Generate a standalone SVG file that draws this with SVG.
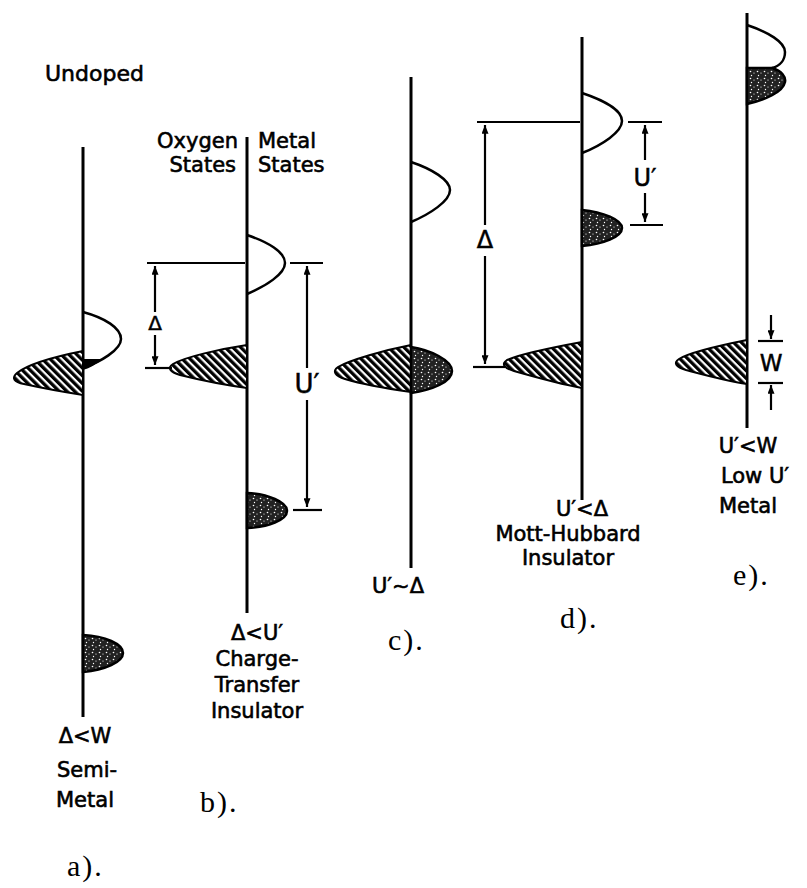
<svg xmlns="http://www.w3.org/2000/svg" width="807" height="888" viewBox="0 0 807 888">
<style>
.axis{stroke:#000;stroke-width:3;fill:none}
.ln{stroke:#000;stroke-width:2.2;fill:none}
.arr{stroke:#000;stroke-width:2.2;fill:none;marker-end:url(#ah)}
.open{stroke:#000;stroke-width:2.5;fill:none}
.hat{fill:url(#hatch);stroke:#000;stroke-width:2}
.dot{fill:url(#dots);stroke:#000;stroke-width:2.5}
.lab{font-family:"DejaVu Sans","Liberation Sans",sans-serif;font-size:21px;fill:#000;stroke:#000;stroke-width:0.6}
.sym{font-family:"DejaVu Sans","Liberation Sans",sans-serif;fill:#000;stroke:#000;stroke-width:0.5;text-anchor:middle}
.pl{font-family:"Liberation Serif",serif;font-size:30px;fill:#000;letter-spacing:2px}
.mid{text-anchor:middle}
.end{text-anchor:end}
</style>
<defs>
<pattern id="hatch" patternUnits="userSpaceOnUse" width="5.5" height="5.5" patternTransform="rotate(45)">
<rect width="5.5" height="5.5" fill="#000"/>
<rect y="0" width="5.5" height="2.2" fill="#fff"/>
</pattern>
<pattern id="dots" patternUnits="userSpaceOnUse" width="7" height="7">
<rect width="7" height="7" fill="#222"/>
<circle cx="1.5" cy="1.5" r="0.8" fill="#fff"/>
<circle cx="5" cy="3" r="0.6" fill="#fff"/>
<circle cx="2.5" cy="5.5" r="0.7" fill="#fff"/>
</pattern>
<marker id="ah" viewBox="0 0 10 8" refX="10" refY="4" markerWidth="10" markerHeight="7" markerUnits="userSpaceOnUse" orient="auto">
<path d="M0,0 L10,4 L0,8 Z" fill="#000"/>
</marker>
</defs>
<rect width="807" height="888" fill="#fff"/>

<text class="lab" x="45" y="81" style="font-size:22px">Undoped</text>

<g id="panel-a">
<line class="axis" x1="83" y1="147" x2="83" y2="717"/>
<path class="hat" d="M83,351 C58,356 28,364 17,373 C11,378 14,382 24,384 C42,388 64,392 83,395 Z"/>
<path class="open" d="M83,312 C105,318 121,328 121,339 C121,350 100,362 83,368"/>
<path d="M83,359 L103,359 C96,364 90,368 83,370 Z" fill="#000"/>
<path class="dot" d="M83,635 C105,636 123,644 123,653 C123,662 105,670 83,672 Z"/>
<text class="lab mid" x="85" y="743">Δ&lt;W</text>
<text class="lab mid" x="87" y="777">Semi-</text>
<text class="lab mid" x="85" y="807">Metal</text>
<text class="pl" x="67" y="876">a).</text>
</g>

<g id="panel-b">
<line class="axis" x1="247" y1="137" x2="247" y2="613"/>
<text class="lab end" x="238" y="148">Oxygen</text>
<text class="lab end" x="236" y="172">States</text>
<text class="lab" x="258" y="148">Metal</text>
<text class="lab" x="258" y="172">States</text>
<path class="open" d="M247,235 C268,242 285,252 285,263 C285,274 266,286 247,294"/>
<path class="hat" d="M247,345 C220,349 185,357 173,364 C167,368 170,372 180,375 C200,380 225,385 247,388 Z"/>
<path class="dot" d="M247,493 C268,494 287,502 287,511 C287,520 268,527 247,528 Z"/>
<text class="sym" x="155" y="330" style="font-size:20px">Δ</text>
<text class="sym" x="307" y="393" style="font-size:26px">U′</text>
<text class="lab mid" x="257" y="640">Δ&lt;U′</text>
<text class="lab mid" x="257" y="666">Charge-</text>
<text class="lab mid" x="257" y="692">Transfer</text>
<text class="lab mid" x="257" y="718">Insulator</text>
<text class="pl" x="200" y="812">b).</text>
</g>

<g id="panel-c">
<line class="axis" x1="411" y1="77" x2="411" y2="568"/>
<path class="open" d="M411,162 C432,169 450,180 450,190 C450,201 430,214 411,222"/>
<path class="hat" d="M411,345 C385,350 350,360 338,367 C332,371 335,376 345,379 C365,385 390,389 411,392 Z"/>
<path class="dot" d="M411,347 C430,350 452,360 452,371 C452,382 432,390 411,393 Z"/>
<text class="lab mid" x="398" y="593">U′~Δ</text>
<text class="pl" x="388" y="650">c).</text>
</g>

<g id="panel-d">
<line class="axis" x1="582" y1="37" x2="582" y2="500"/>
<path class="open" d="M582,93 C603,100 622,110 622,121 C622,132 602,145 582,153"/>
<path class="dot" d="M582,210 C603,212 622,220 622,228 C622,237 603,244 582,246 Z"/>
<path class="hat" d="M582,342 C555,347 520,354 507,360 C501,364 504,368 514,371 C535,377 560,384 582,388 Z"/>
<text class="sym" x="485" y="248" style="font-size:24px">Δ</text>
<text class="sym" x="645" y="186" style="font-size:24px">U′</text>
<text class="lab mid" x="582" y="516">U′&lt;Δ</text>
<text class="lab mid" x="568" y="541">Mott-Hubbard</text>
<text class="lab mid" x="568" y="565">Insulator</text>
<text class="pl" x="560" y="628">d).</text>
</g>

<g id="panel-e">
<line class="axis" x1="747" y1="13" x2="747" y2="428"/>
<path class="open" d="M747,25 C768,32 785,42 785,52 C785,60 780,66 772,68"/>
<path class="dot" d="M747,68 L772,68 C782,71 786,77 785,82 C783,92 765,100 747,104 Z"/>
<path class="hat" d="M747,340 C722,345 690,352 679,359 C673,363 676,367 686,370 C705,375 727,381 747,384 Z"/>
<text class="sym" x="771" y="371" style="font-size:23px">W</text>
<text class="lab mid" x="748" y="453">U′&lt;W</text>
<text class="lab mid" x="755" y="483">Low U′</text>
<text class="lab mid" x="748" y="513">Metal</text>
<text class="pl" x="733" y="585">e).</text>
</g>

<g id="connectors">
<line class="ln" x1="147" y1="263" x2="245" y2="263"/>
<line class="ln" x1="145" y1="368" x2="172" y2="368"/>
<line class="arr" x1="155" y1="312" x2="155" y2="266"/>
<line class="arr" x1="155" y1="335" x2="155" y2="365"/>
<line class="ln" x1="290" y1="263" x2="323" y2="263"/>
<line class="ln" x1="293" y1="510" x2="322" y2="510"/>
<line class="arr" x1="307" y1="368" x2="307" y2="266"/>
<line class="arr" x1="307" y1="400" x2="307" y2="507"/>

<line class="ln" x1="477" y1="122" x2="580" y2="122"/>
<line class="ln" x1="473" y1="367" x2="505" y2="367"/>
<line class="arr" x1="485" y1="225" x2="485" y2="125"/>
<line class="arr" x1="485" y1="256" x2="485" y2="364"/>
<line class="ln" x1="628" y1="122" x2="662" y2="122"/>
<line class="ln" x1="630" y1="225" x2="663" y2="225"/>
<line class="arr" x1="645" y1="160" x2="645" y2="125"/>
<line class="arr" x1="645" y1="193" x2="645" y2="222"/>

<line class="ln" x1="758" y1="341" x2="783" y2="341"/>
<line class="ln" x1="758" y1="383" x2="783" y2="383"/>
<line class="arr" x1="771" y1="315" x2="771" y2="339"/>
<line class="arr" x1="771" y1="410" x2="771" y2="385"/>
</g>
</svg>
